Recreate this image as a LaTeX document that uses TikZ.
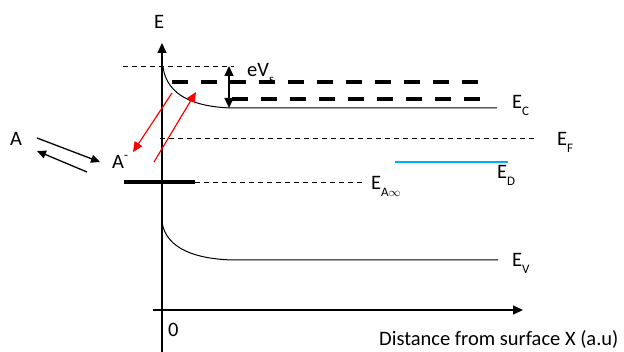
\documentclass[tikz,border=0pt]{standalone}
\usepackage{fontspec}
\setmainfont{Carlito}
\usetikzlibrary{arrows.meta}
\newcommand{\lowsub}[1]{\raisebox{-7pt}{\fontsize{13}{13}\selectfont #1}}
\begin{document}
\begin{tikzpicture}[x=1pt,y=-1pt,
  lbl/.style={font=\fontsize{20.5}{24}\selectfont, inner sep=0pt, anchor=base west},
  axis/.style={line width=1.3pt},
  thin/.style={line width=1pt},
  thickdash/.style={line width=4pt, dash pattern=on 16pt off 13pt},
  thindash/.style={line width=0.9pt, dash pattern=on 5pt off 4pt},
  blackhead/.style={-{Triangle[length=10pt,width=9pt]}},
  redarrow/.style={red, line width=1.2pt, -{Triangle[length=10pt,width=9pt]}},
  smallarrow/.style={line width=1.3pt, -{Triangle[length=9pt,width=8pt]}}]
\useasboundingbox (0,0) rectangle (624,352);
% axes
\coordinate (ybot) at (162,352);
\coordinate (ytop) at (162,43);
\coordinate (xl) at (153,310);
\coordinate (xr) at (523,310);
\draw[axis, blackhead] (ybot) -- (ytop);
\draw[axis, blackhead] (xl) -- (xr);
\node[lbl] (Elab) at (154,29) {E};
\node[lbl] (zero) at (168,337) {0};
\node[lbl] (dist) at (379,346) {Distance from surface X (a.u)};
% top dotted reference
\coordinate (t1) at (123,66);
\coordinate (t2) at (234,66);
\draw[thindash] (t1) -- (t2);
% conduction band
\coordinate (cb0) at (163,67);
\coordinate (cb1) at (232,108);
\coordinate (cb2) at (497,108);
\draw[thin] (cb0) .. controls (167,96) and (195,107) .. (cb1) -- (cb2);
\node[lbl] (EC) at (512,109) {E\lowsub{C}};
% thick dashed
\coordinate (d1a) at (172,82);
\coordinate (d1b) at (484,82);
\coordinate (d2a) at (232,99);
\coordinate (d2b) at (490,99);
\draw[thickdash] (d1a) -- (d1b);
\draw[thickdash] (d2a) -- (d2b);
% eVs
\coordinate (v1) at (229,66);
\coordinate (v2) at (229,108);
\draw[line width=1.3pt, {Triangle[length=10pt,width=9pt]}-{Triangle[length=10pt,width=9pt]}] (v1) -- (v2);
\node[lbl] (eVs) at (247,77) {eV\lowsub{s}};
% Fermi
\coordinate (f1) at (160,138);
\coordinate (f2) at (535,138);
\draw[thindash] (f1) -- (f2);
\node[lbl] (EF) at (557,146) {E\lowsub{F}};
% donor
\coordinate (ed1) at (395,162);
\coordinate (ed2) at (508,162);
\draw[line width=1.3pt, color={rgb,255:red,0;green,176;blue,240}] (ed1) -- (ed2);
\node[lbl] (ED) at (497,179) {E\lowsub{D}};
% acceptor level
\coordinate (a1) at (124,182);
\coordinate (a2) at (195,182);
\coordinate (a3) at (365,182);
\draw[line width=4pt] (a1) -- (a2);
\draw[thindash] (a2) -- (a3);
\node[lbl] (EA) at (371,190) {E\lowsub{A$\infty$}};
% valence band
\coordinate (vb0) at (162,222);
\coordinate (vb1) at (233,260);
\coordinate (vb2) at (498,260);
\draw[thin] (vb0) .. controls (166,249) and (196,259) .. (vb1) -- (vb2);
\node[lbl] (EV) at (512,267) {E\lowsub{V}};
% A and A-
\node[lbl] (A) at (10,146) {A};
\node[lbl] (Am) at (112,169) {A\raisebox{9pt}{\fontsize{13}{13}\selectfont -}};
\coordinate (p1) at (37,138);
\coordinate (p2) at (100,162);
\coordinate (p3) at (87,172);
\coordinate (p4) at (37,151);
\draw[smallarrow] (p1) -- (p2);
\draw[smallarrow] (p3) -- (p4);
% red arrows
\coordinate (r1a) at (172,93);
\coordinate (r1b) at (133,152);
\coordinate (r2a) at (154,162);
\coordinate (r2b) at (196,92);
\draw[redarrow] (r1a) -- (r1b);
\draw[redarrow] (r2a) -- (r2b);
\end{tikzpicture}
\end{document}
